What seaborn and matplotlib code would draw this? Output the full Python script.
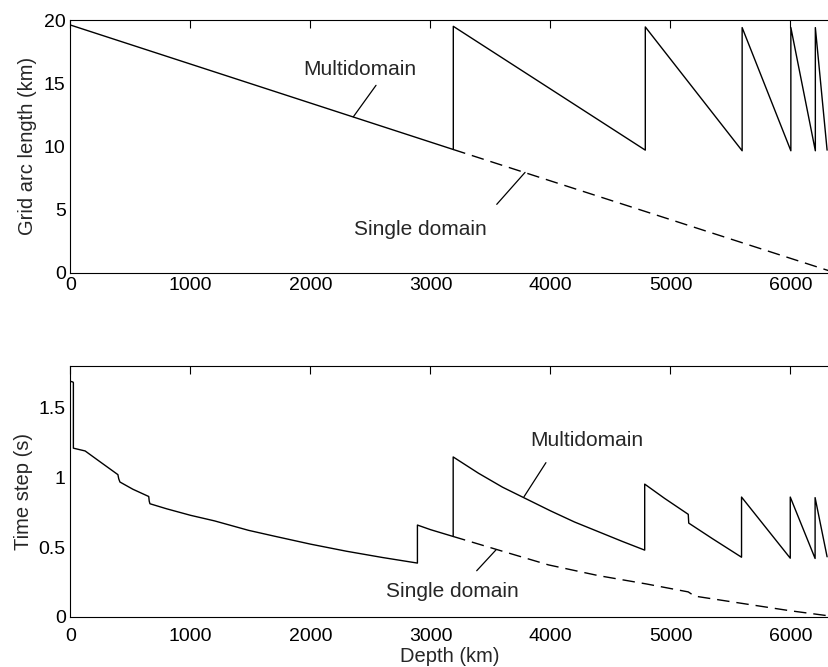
import matplotlib
matplotlib.use("Agg")
import matplotlib.pyplot as plt
import seaborn as sns
import pandas as pd

# ---- grid arc length (km) vs depth (km) ----
arc_multi_depth = [0, 3190, 3190, 4790, 4790, 5597, 5597, 6003, 6003, 6207, 6207, 6305]
arc_multi_len = [19.6, 9.75, 19.5, 9.7, 19.45, 9.65, 19.4, 9.65, 19.4, 9.65, 19.4, 9.7]

arc_single_depth = [3190, 6371]
arc_single_len = [9.75, 0.0]

# ---- time step (s) vs depth (km) ----
dt_multi_depth = [0, 20, 24, 24, 122, 250, 395, 402, 412, 520, 652, 656, 662,
                  800, 1000, 1200, 1484, 1700, 2000, 2300, 2600, 2891, 2891,
                  3000, 3189, 3189, 3400, 3600, 3800, 4000, 4200, 4400, 4600,
                  4785, 4785, 4950, 5148, 5152, 5350, 5592, 5592, 5998, 5998,
                  6205, 6205, 6305]
dt_multi = [1.69, 1.685, 1.68, 1.21, 1.19, 1.11, 1.02, 0.99, 0.967, 0.915,
            0.863, 0.83, 0.811, 0.775, 0.728, 0.688, 0.62, 0.578, 0.521, 0.47,
            0.425, 0.385, 0.658, 0.625, 0.576, 1.147, 1.03, 0.93, 0.845, 0.76,
            0.68, 0.61, 0.54, 0.478, 0.952, 0.85, 0.735, 0.672, 0.56, 0.427,
            0.859, 0.42, 0.859, 0.418, 0.855, 0.43]

dt_single_depth = [3189, 3600, 3983, 4399, 4800, 5148, 5200, 5600, 5995, 6371]
dt_single = [0.576, 0.47, 0.372, 0.295, 0.235, 0.178, 0.148, 0.095, 0.043, 0.0]

x_ticks = [0, 1000, 2000, 3000, 4000, 5000, 6000]
arc_ticks = [0, 5, 10, 15, 20]
dt_ticks = [0, 0.5, 1, 1.5]
dt_tick_labels = ["0", "0.5", "1", "1.5"]

sns.set_theme(style="white")
plt.rcParams["font.family"] = ["Liberation Sans", "DejaVu Sans"]
plt.rcParams["axes.linewidth"] = 0.8
plt.rcParams["axes.edgecolor"] = "black"

W, H = 829, 667
fig = plt.figure(figsize=(W / 100, H / 100), dpi=100)
left = 70.5 / W
ax1 = fig.add_axes([left, 1 - 272.7 / H, 1 - left, (272.7 - 20) / H])
ax2 = fig.add_axes([left, 1 - 616.7 / H, 1 - left, (616.7 - 366) / H])

dash = (0, (9, 5))
line_kw = dict(color="black", linewidth=1.0, estimator=None, sort=False)

df_arc_m = pd.DataFrame({"depth": arc_multi_depth, "val": arc_multi_len})
df_arc_s = pd.DataFrame({"depth": arc_single_depth, "val": arc_single_len})
df_dt_m = pd.DataFrame({"depth": dt_multi_depth, "val": dt_multi})
df_dt_s = pd.DataFrame({"depth": dt_single_depth, "val": dt_single})

sns.lineplot(data=df_arc_s, x="depth", y="val", ax=ax1, linestyle=dash, **line_kw)
sns.lineplot(data=df_arc_m, x="depth", y="val", ax=ax1, **line_kw)
sns.lineplot(data=df_dt_s, x="depth", y="val", ax=ax2, linestyle=dash, **line_kw)
sns.lineplot(data=df_dt_m, x="depth", y="val", ax=ax2, **line_kw)

x_max = (W - 70.5) / 0.12
for ax in (ax1, ax2):
    ax.set_xlim(0, x_max)
    ax.set_xticks(x_ticks)
    ax.spines["right"].set_visible(False)
    ax.tick_params(axis="both", which="both", direction="in", top=True,
                   right=False, labelsize=14, colors="black", width=0.8)
    ax.tick_params(axis="x", length=5.5)
    ax.tick_params(axis="y", length=4.2, pad=3.5)
    ax.set_xlabel("")
    ax.set_ylabel("")

ax1.set_ylim(0, 20)
ax1.set_yticks(arc_ticks)
ax1.tick_params(axis="x", pad=3)
ax1.set_ylabel("Grid arc length (km)", fontsize=14.5)
ax1.yaxis.set_label_coords(-0.0437, 0.5)

ax2.set_ylim(0, 1.8)
ax2.set_yticks(dt_ticks)
ax2.set_yticklabels(dt_tick_labels)
ax2.tick_params(axis="x", pad=8)
ax2.set_ylabel("Time step (s)", fontsize=14.5)
ax2.yaxis.set_label_coords(-0.049, 0.5)
ax2.set_xlabel("Depth (km)", fontsize=14.5)
ax2.xaxis.set_label_coords(0.5, -0.122)
ax2.xaxis.label.set_va("top")

lead = dict(arrowstyle="-", color="black", lw=0.9, shrinkA=0, shrinkB=0)

# annotations, upper panel
ax1.text(2408, 16.08, "Multidomain", ha="center", va="center", fontsize=15)
ax1.annotate("", xy=(2357, 12.34), xytext=(2546, 14.83), arrowprops=lead)
ax1.text(2919, 3.42, "Single domain", ha="center", va="center", fontsize=15)
ax1.annotate("", xy=(3788, 7.94), xytext=(3552, 5.41), arrowprops=lead)

# annotations, lower panel
ax2.text(4302, 1.263, "Multidomain", ha="center", va="center", fontsize=15)
ax2.annotate("", xy=(3779, 0.861), xytext=(3962, 1.106), arrowprops=lead)
ax2.text(3183, 0.18, "Single domain", ha="center", va="center", fontsize=15)
ax2.annotate("", xy=(3546, 0.48), xytext=(3385, 0.33), arrowprops=lead)

fig.savefig("out.png", dpi=100)
